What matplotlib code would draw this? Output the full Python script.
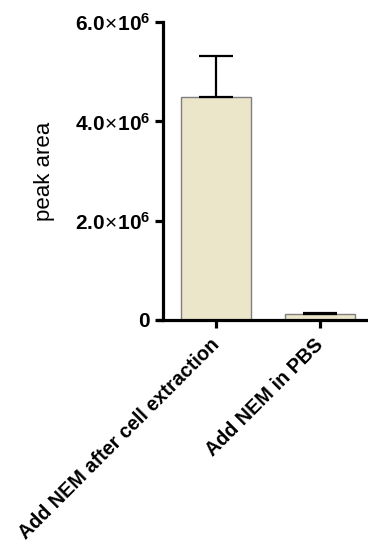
import numpy as np
import matplotlib.pyplot as plt

plt.rcParams['font.family'] = ['Liberation Sans', 'DejaVu Sans']
plt.rcParams['mathtext.fontset'] = 'custom'
plt.rcParams['mathtext.rm'] = 'Liberation Sans'
plt.rcParams['mathtext.bf'] = 'Liberation Sans:bold'

# Peak area for each NEM treatment
groups = ['Add NEM after cell extraction', 'Add NEM in PBS']
peak_area = [4.49e6, 0.11e6]
peak_err = [0.83e6, 0.03e6]
yticks = [0, 2e6, 4e6, 6e6]
ytick_labels = [r'$\mathbf{0}$',
                r'$\mathbf{2.0}\!\times\!\mathbf{10^{6}}$',
                r'$\mathbf{4.0}\!\times\!\mathbf{10^{6}}$',
                r'$\mathbf{6.0}\!\times\!\mathbf{10^{6}}$']

fig = plt.figure(figsize=(3.68, 5.43), dpi=100)
ax = fig.add_axes([0.443, 0.411, 0.557, 0.548])

x = np.arange(len(groups))
ax.bar(x, peak_area, width=0.67, color='#ebe5c9', edgecolor='#7f7f7f', linewidth=1.0, zorder=2)
ax.errorbar(x, peak_area, yerr=[[0, 0], peak_err], fmt='none', ecolor='black',
            elinewidth=1.6, capsize=12, capthick=1.6, zorder=3)

ax.set_xlim(-0.51, 1.46)
ax.set_ylim(0, 6e6)
ax.set_yticks(yticks)
ax.set_yticklabels(ytick_labels, fontsize=15)
ax.set_xticks(x)
ax.set_xticklabels(groups, rotation=45, ha='right', va='center', rotation_mode='anchor',
                   fontsize=14.2, fontweight='bold')
ax.set_ylabel('peak area', fontsize=16, labelpad=14)

for side in ['top', 'right']:
    ax.spines[side].set_visible(False)
for side in ['left', 'bottom']:
    ax.spines[side].set_linewidth(2.3)
ax.spines['bottom'].set_bounds(-0.56, 1.46)
ax.tick_params(axis='both', width=2.3, length=6, pad=3)
ax.tick_params(axis='x', pad=10)

fig.savefig('out.png', dpi=100)
